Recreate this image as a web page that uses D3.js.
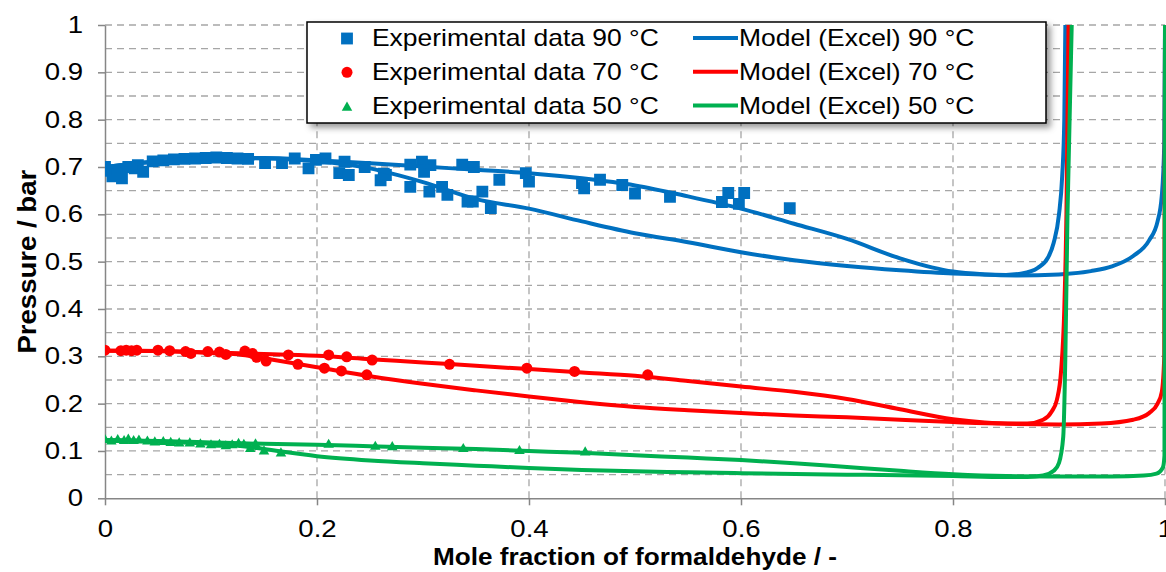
<!DOCTYPE html>
<html>
<head>
<meta charset="utf-8">
<script src="https://cdn.jsdelivr.net/npm/d3@7"></script>
<style>
  body { margin: 0; background: #fff; }
  svg text { font-family: "Liberation Sans", Arial, sans-serif; fill: #000; }
  .tick text { font-size: 23px; }
</style>
</head>
<body>
<svg id="chart" width="1166" height="572"></svg>
<script>
// experimental points [mole fraction, pressure in bar]
const exp90 = [[0,0.700],[0.004,0.692],[0.007,0.680],[0.012,0.694],[0.016,0.676],[0.022,0.700],[0.028,0.697],[0.031,0.704],[0.036,0.690],
  [0.045,0.712],[0.055,0.714],[0.065,0.716],[0.075,0.717],[0.085,0.718],[0.095,0.719],[0.105,0.720],[0.115,0.719],[0.125,0.718],[0.135,0.717],
  [0.151,0.708],[0.167,0.708],[0.179,0.718],[0.192,0.697],[0.199,0.715],[0.208,0.718],[0.221,0.687],[0.226,0.711],[0.230,0.683],[0.245,0.700],
  [0.260,0.672],[0.263,0.686],[0.265,0.683],[0.288,0.705],[0.288,0.658],[0.299,0.711],[0.301,0.690],[0.307,0.704],[0.306,0.648],[0.318,0.658],
  [0.323,0.641],[0.337,0.705],[0.342,0.627],[0.347,0.627],[0.348,0.700],[0.356,0.648],[0.364,0.613],[0.372,0.673],[0.397,0.687],[0.400,0.669],
  [0.450,0.666],[0.452,0.655],[0.467,0.673],[0.488,0.662],[0.500,0.644],[0.533,0.637],[0.582,0.626],[0.588,0.645],[0.598,0.622],[0.603,0.645],
  [0.646,0.613]];
const exp70 = [[0,0.313],[0.015,0.312],[0.020,0.313],[0.025,0.312],[0.030,0.313],[0.050,0.313],[0.061,0.312],[0.076,0.310],[0.081,0.306],
  [0.097,0.310],[0.108,0.309],[0.114,0.304],[0.132,0.311],[0.139,0.306],[0.143,0.298],[0.152,0.290],[0.173,0.303],[0.182,0.283],[0.207,0.275],
  [0.211,0.303],[0.223,0.269],[0.228,0.299],[0.247,0.261],[0.252,0.292],[0.325,0.283],[0.398,0.275],[0.443,0.268],[0.512,0.261]];
const exp50 = [[0,0.123],[0.006,0.120],[0.012,0.123],[0.018,0.121],[0.022,0.124],[0.027,0.121],[0.032,0.122],[0.040,0.120],[0.047,0.118],
  [0.055,0.119],[0.062,0.117],[0.070,0.116],[0.080,0.116],[0.090,0.114],[0.100,0.112],[0.108,0.113],[0.114,0.110],[0.120,0.112],[0.126,0.115],
  [0.131,0.113],[0.137,0.104],[0.142,0.114],[0.150,0.099],[0.166,0.095],[0.211,0.113],[0.255,0.109],[0.271,0.108],[0.338,0.104],[0.391,0.100],
  [0.453,0.097]];

// model curves, two branches per temperature
const model90a = [[0,0.700],[0.05,0.712],[0.1,0.719],[0.15,0.719],[0.2,0.714],[0.25,0.708],[0.3,0.701],[0.35,0.694],[0.4,0.687],[0.45,0.676],
  [0.5,0.661],[0.55,0.638],[0.6,0.612],[0.65,0.580],[0.7,0.548],[0.75,0.507],[0.78,0.488],[0.8,0.479],[0.83,0.473],[0.86,0.471],[0.9,0.473],
  [0.93,0.480],[0.95,0.490],[0.97,0.512],[0.985,0.545],[0.993,0.585],[0.997,0.64],[0.9993,0.75],[1,1]];
const model90b = [[0,0.700],[0.05,0.712],[0.1,0.719],[0.15,0.718],[0.2,0.712],[0.25,0.697],[0.3,0.668],[0.35,0.632],[0.4,0.612],[0.45,0.585],
  [0.5,0.560],[0.55,0.541],[0.6,0.520],[0.65,0.503],[0.7,0.491],[0.75,0.482],[0.8,0.475],[0.85,0.472],[0.865,0.475],[0.88,0.487],[0.89,0.51],
  [0.895,0.54],[0.9,0.6],[0.903,0.68],[0.905,0.8],[0.906,1]];
const model70a = [[0,0.312],[0.05,0.311],[0.1,0.308],[0.15,0.305],[0.2,0.301],[0.25,0.294],[0.3,0.287],[0.35,0.280],[0.4,0.273],[0.45,0.266],
  [0.5,0.259],[0.55,0.248],[0.6,0.236],[0.65,0.225],[0.7,0.210],[0.75,0.188],[0.8,0.167],[0.83,0.160],[0.86,0.157],[0.9,0.156],[0.94,0.158],
  [0.97,0.166],[0.985,0.180],[0.993,0.200],[0.997,0.225],[0.9993,0.3],[1,1]];
const model70b = [[0,0.312],[0.05,0.311],[0.1,0.307],[0.13,0.303],[0.15,0.296],[0.2,0.277],[0.25,0.258],[0.3,0.242],[0.35,0.228],[0.4,0.215],
  [0.45,0.203],[0.5,0.193],[0.55,0.186],[0.6,0.180],[0.65,0.175],[0.7,0.171],[0.75,0.166],[0.8,0.161],[0.85,0.158],[0.87,0.158],[0.885,0.166],
  [0.893,0.183],[0.898,0.208],[0.902,0.27],[0.905,0.4],[0.907,0.6],[0.909,1]];
const model50a = [[0,0.123],[0.05,0.121],[0.1,0.118],[0.15,0.115],[0.2,0.113],[0.25,0.110],[0.3,0.107],[0.35,0.104],[0.4,0.100],[0.45,0.096],
  [0.5,0.091],[0.55,0.086],[0.6,0.081],[0.65,0.074],[0.7,0.066],[0.75,0.058],[0.8,0.051],[0.85,0.047],[0.9,0.046],[0.95,0.046],[0.98,0.048],
  [0.992,0.052],[0.998,0.065],[0.9995,0.09],[1,1]];
const model50b = [[0,0.123],[0.05,0.120],[0.1,0.115],[0.13,0.110],[0.15,0.104],[0.2,0.089],[0.25,0.080],[0.3,0.074],[0.35,0.069],[0.4,0.064],
  [0.45,0.060],[0.5,0.057],[0.55,0.055],[0.6,0.053],[0.7,0.050],[0.8,0.047],[0.85,0.045],[0.87,0.045],[0.885,0.048],[0.895,0.058],[0.9,0.075],
  [0.904,0.13],[0.906,0.3],[0.908,0.6],[0.912,1]];

const xTicks = [0, 0.2, 0.4, 0.6, 0.8, 1];
const yTicks = [0, 0.1, 0.2, 0.3, 0.4, 0.5, 0.6, 0.7, 0.8, 0.9, 1];
const yGrid = d3.range(1, 21).map((i) => i / 20);
const expLabels = ["Experimental data 90 °C", "Experimental data 70 °C", "Experimental data 50 °C"];
const modelLabels = ["Model (Excel) 90 °C", "Model (Excel) 70 °C", "Model (Excel) 50 °C"];
const colors = ["#0070C0", "#FF0000", "#00B050"];

const svg = d3.select("#chart");
const x = d3.scaleLinear().domain([0, 1]).range([105, 1165]);
const y = d3.scaleLinear().domain([0, 1]).range([498.3, 25]);

// stretch text horizontally a bit, the original lettering is wide
const stretch = (sel, k, origin) =>
  sel.style("transform-box", "fill-box").style("transform-origin", origin).style("transform", `scaleX(${k})`);

const defs = svg.append("defs");
defs.append("clipPath").attr("id", "plot")
  .append("rect")
  .attr("x", x(0)).attr("y", y(1))
  .attr("width", 1166 - x(0)).attr("height", y(0) - y(1));
const filter = defs.append("filter").attr("id", "shadow")
  .attr("x", "-5%").attr("y", "-10%").attr("width", "115%").attr("height", "140%");
filter.append("feDropShadow")
  .attr("dx", 4).attr("dy", 4).attr("stdDeviation", 3)
  .attr("flood-color", "#000").attr("flood-opacity", 0.4);

// grid
svg.append("g").selectAll("line").data(yGrid).join("line")
  .attr("x1", x(0)).attr("x2", x(1))
  .attr("y1", (d) => y(d)).attr("y2", (d) => y(d))
  .attr("stroke", "#a6a6a6").attr("stroke-width", 1.3).attr("stroke-dasharray", "7,5");
svg.append("g").selectAll("line").data(xTicks.slice(1)).join("line")
  .attr("x1", (d) => x(d)).attr("x2", (d) => x(d))
  .attr("y1", y(0)).attr("y2", y(1))
  .attr("stroke", "#a6a6a6").attr("stroke-width", 1.3).attr("stroke-dasharray", "7,5");

// axes
const fmt = d3.format("~g");
const yAxis = svg.append("g")
  .attr("transform", `translate(${x(0)},0)`)
  .call(d3.axisLeft(y).tickValues(yTicks).tickSize(7).tickSizeOuter(0).tickPadding(15).tickFormat(fmt))
  .attr("font-size", null).attr("font-family", null);
const xAxis = svg.append("g")
  .attr("transform", `translate(0,${y(0)})`)
  .call(d3.axisBottom(x).tickValues(xTicks).tickSize(7).tickSizeOuter(0).tickPadding(15).tickFormat(fmt))
  .attr("font-size", null).attr("font-family", null);
[yAxis, xAxis].forEach((ax) => {
  ax.select(".domain").attr("stroke", "#868686").attr("stroke-width", 1.5);
  ax.selectAll(".tick line").attr("stroke", "#868686").attr("stroke-width", 1.5);
});
stretch(yAxis.selectAll(".tick text"), 1.2, "right center");
stretch(xAxis.selectAll(".tick text"), 1.2, "center");

// axis titles
const yTitle = svg.append("g").attr("transform", `translate(36,${(y(0) + y(1)) / 2})rotate(-90)`)
  .append("text")
  .attr("text-anchor", "middle")
  .attr("font-size", 26).attr("font-weight", "bold")
  .text("Pressure / bar");
stretch(yTitle, 1.06, "center");
const xTitle = svg.append("text")
  .attr("x", (x(0) + x(1)) / 2).attr("y", 565)
  .attr("text-anchor", "middle")
  .attr("font-size", 24).attr("font-weight", "bold")
  .text("Mole fraction of formaldehyde / -");
stretch(xTitle, 1.09, "center");

// series
const plot = svg.append("g").attr("clip-path", "url(#plot)");
const symbols = [d3.symbolSquare, d3.symbolCircle, d3.symbolTriangle];
const symbolSizes = [140, 95, 48];
const expData = [exp90, exp70, exp50];
const modelData = [[model90a, model90b], [model70a, model70b], [model50a, model50b]];

expData.forEach((pts, i) => {
  const sym = d3.symbol(symbols[i], symbolSizes[i]);
  plot.append("g").selectAll("path").data(pts).join("path")
    .attr("transform", (d) => `translate(${x(d[0])},${y(d[1])})`)
    .attr("d", sym)
    .attr("fill", colors[i]);
});

const line = d3.line().x((d) => x(d[0])).y((d) => y(d[1])).curve(d3.curveMonotoneX);
modelData.forEach((branches, i) => {
  plot.append("g").selectAll("path").data(branches).join("path")
    .attr("d", line)
    .attr("fill", "none")
    .attr("stroke", colors[i])
    .attr("stroke-width", 4)
    .attr("stroke-linejoin", "round");
});

// legend
const legend = svg.append("g");
legend.append("rect")
  .attr("x", 307).attr("y", 22).attr("width", 739).attr("height", 101)
  .attr("fill", "#fff").attr("stroke", "#000").attr("stroke-width", 1.5)
  .attr("filter", "url(#shadow)");
const rows = legend.selectAll(".row").data(colors).join("g")
  .attr("class", "row")
  .attr("transform", (d, i) => `translate(0,${46 + i * 33.8})`);
rows.append("path")
  .attr("transform", (d, i) => `translate(347,${i === 2 ? -6 : -7.5})`)
  .attr("d", (d, i) => d3.symbol(symbols[i], symbolSizes[i])())
  .attr("fill", (d) => d);
rows.append("text")
  .attr("x", 372)
  .attr("font-size", 23)
  .text((d, i) => expLabels[i])
  .call(stretch, 1.15, "left center");
rows.append("line")
  .attr("x1", 693).attr("x2", 738)
  .attr("y1", -8).attr("y2", -8)
  .attr("stroke", (d) => d).attr("stroke-width", 4);
rows.append("text")
  .attr("x", 739)
  .attr("font-size", 23)
  .text((d, i) => modelLabels[i])
  .call(stretch, 1.15, "left center");
</script>
</body>
</html>
